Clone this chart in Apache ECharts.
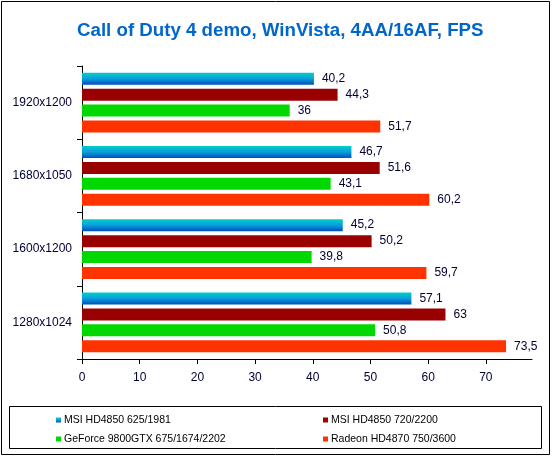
<!DOCTYPE html>
<html><head><meta charset="utf-8">
<script src="https://cdn.jsdelivr.net/npm/echarts@6/dist/echarts.min.js"></script>
<style>html,body{margin:0;padding:0;background:#fff}#c{width:552px;height:457px}</style>
</head><body><div id="c"></div>
<script>
const categories = ['1920x1200', '1680x1050', '1600x1200', '1280x1024'];
const seriesNames = ['MSI HD4850 625/1981', 'MSI HD4850 720/2200', 'GeForce 9800GTX 675/1674/2202', 'Radeon HD4870 750/3600'];
const msi625 = [40.2, 46.7, 45.2, 57.1];
const msi720 = [44.3, 51.6, 50.2, 63];
const gf9800 = [36, 43.1, 39.8, 50.8];
const hd4870 = [51.7, 60.2, 59.7, 73.5];
const xTicks = [0, 10, 20, 30, 40, 50, 60, 70];

const font = 'Liberation Sans, Arial, sans-serif';
const colors = [
  new echarts.graphic.LinearGradient(0, 0, 0, 1, [
    {offset: 0, color: '#00d0c8'}, {offset: 0.5, color: '#0a9edc'}, {offset: 1, color: '#0050bc'}]),
  '#990000', '#00d800', '#ff3300'
];
const values = [msi625, msi720, gf9800, hd4870];
const legendPos = [[56, 414], [323, 414], [56, 433], [323, 433]];

const chart = echarts.init(document.getElementById('c'), null, {renderer: 'canvas'});
chart.setOption({
  animation: false,
  title: {
    text: 'Call of Duty 4 demo, WinVista, 4AA/16AF, FPS',
    left: 77, top: 21, padding: 0,
    textStyle: {color: '#0066cc', fontSize: 18.7, fontWeight: 'bold', fontFamily: font}
  },
  graphic: [
    {type: 'rect', shape: {x: 1.5, y: 1.5, width: 548, height: 453}, style: {fill: 'none', stroke: '#000', lineWidth: 1}, z: -1},
    {type: 'rect', shape: {x: 9.5, y: 406.5, width: 532, height: 42}, style: {fill: 'none', stroke: '#000', lineWidth: 1}, z: -1}
  ],
  legend: seriesNames.map((n, i) => ({
    data: [n], left: legendPos[i][0], top: legendPos[i][1], padding: 0,
    itemWidth: 5, itemHeight: 5, icon: 'rect',
    textStyle: {fontSize: 10.5, lineHeight: 12, fontFamily: font, color: '#000', padding: [0, 0, 0, -2]}
  })),
  grid: {left: 82, top: 66, right: 20, bottom: 98, containLabel: false},
  xAxis: {
    type: 'value', min: 0, max: 78, interval: 10,
    splitLine: {show: false},
    axisLine: {show: true, lineStyle: {color: '#000'}},
    axisTick: {show: true, length: 5, lineStyle: {color: '#000'}},
    axisLabel: {color: '#000033', fontSize: 12, fontFamily: font, margin: 13, showMaxLabel: false,
      formatter: v => xTicks.includes(v) ? String(v) : ''}
  },
  yAxis: {
    type: 'category', data: categories, inverse: true,
    axisLine: {show: true, lineStyle: {color: '#000'}},
    axisTick: {show: true, length: 5, lineStyle: {color: '#000'}},
    axisLabel: {color: '#000033', fontSize: 12, fontFamily: font, margin: 10}
  },
  series: seriesNames.map((n, i) => ({
    name: n, type: 'bar', data: values[i], barWidth: 12, barGap: '33%',
    itemStyle: {color: colors[i]},
    label: {show: true, position: 'right', distance: 8, color: '#000033', fontSize: 12, fontFamily: font,
      formatter: p => String(p.value).replace('.', ',')}
  }))
});
</script></body></html>
